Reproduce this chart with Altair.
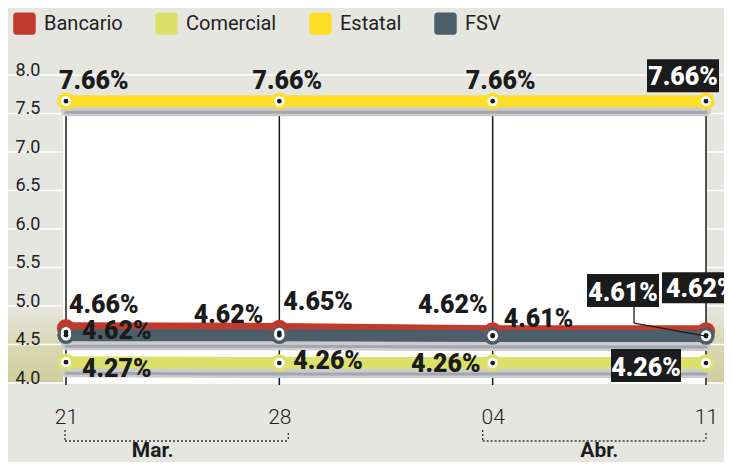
import altair as alt
import pandas as pd

# ---------------- data ----------------
DATES = ["2024-03-21", "2024-03-28", "2024-04-04", "2024-04-11"]
DAY_LABELS = ["21", "28", "04", "11"]
SERIES = ["Bancario", "Comercial", "Estatal", "FSV"]
COLORS = ["#c23a2c", "#dbe16a", "#fddf2a", "#4b5f6b"]
BANCARIO = [4.66, 4.65, 4.62, 4.62]
COMERCIAL = [4.27, 4.26, 4.26, 4.26]
ESTATAL = [7.66, 7.66, 7.66, 7.66]
FSV = [4.62, 4.62, 4.61, 4.61]
Y_TICKS = [4.0, 4.5, 5.0, 5.5, 6.0, 6.5, 7.0, 7.5, 8.0]
MONTHS = ["Mar.", "Abr."]
MONTH_START = ["2024-03-21", "2024-04-04"]
MONTH_END = ["2024-03-28", "2024-04-11"]

# ---------------- styles ----------------
BG = "#e6e6e1"
INK = "#1b1b1b"
LABEL_FONT = "Roboto"
LABEL_SIZE = 25
W, H = 640, 308
PAD = {"left": 58, "top": 67, "right": 18, "bottom": 79}

# label placement: series, point index, align, dx, dy, box (x0, x1, y0, y1) or None
LABEL_STYLE = [
    ("Estatal", 0, "left", -7, -12, None),
    ("Estatal", 1, "center", 8, -12, None),
    ("Estatal", 2, "center", 8, -12, None),
    ("Estatal", 3, "center", -23, -16, (-59, 13, -42, -9)),
    ("Bancario", 0, "left", 3, -19, None),
    ("Bancario", 1, "left", 4, -23, None),
    ("Bancario", 2, "right", -5, -22, None),
    ("Bancario", 3, "left", -40, -38, (-44, 34, -63, -32)),
    ("FSV", 0, "left", 16, 4, None),
    ("FSV", 1, "right", -16, -12, None),
    ("FSV", 2, "left", 11, -9, None),
    ("FSV", 3, "center", -83, -35, (-119, -47, -62, -29)),
    ("Comercial", 0, "left", 16, 15, None),
    ("Comercial", 1, "left", 14, 6, None),
    ("Comercial", 2, "right", -12, 9, None),
    ("Comercial", 3, "center", -60, 13, (-95, -25, -14, 19)),
]
MONTH_STYLE = [(-1, 9, -20), (-10, 0, 0)]  # bracket start offset, end offset, label dx

# ---------------- frames ----------------
dates = pd.to_datetime(DATES)
DAYS = [int((d - dates[0]).days) for d in dates]

rows = []
for name, vals in zip(SERIES, [BANCARIO, COMERCIAL, ESTATAL, FSV]):
    for i, (d, v) in enumerate(zip(DAYS, vals)):
        rows.append({"series": name, "idx": i, "day": d, "value": v,
                     "label": f"{v:.2f}%", "base": Y_TICKS[0]})
df = pd.DataFrame(rows)

m_start = [int((d - dates[0]).days) for d in pd.to_datetime(MONTH_START)]
m_end = [int((d - dates[0]).days) for d in pd.to_datetime(MONTH_END)]
months = pd.DataFrame({"name": MONTHS, "start": m_start, "end": m_end})
months["mid"] = (months["start"] + months["end"]) / 2

x_scale = alt.Scale(domain=[DAYS[0], DAYS[-1]], nice=False, zero=False)
y_scale = alt.Scale(domain=[Y_TICKS[0], Y_TICKS[-1]], nice=False, zero=False)
color_scale = alt.Scale(domain=SERIES, range=COLORS)

x_expr = " : ".join(f"datum.value == {d} ? '{lab}'" for d, lab in zip(DAYS, DAY_LABELS)) + " : ''"
X_AXIS = alt.Axis(values=DAYS, labelExpr=x_expr, title=None, domain=False, ticks=False,
                  grid=False, labelFont="Roboto", labelFontSize=21, labelFontWeight=300,
                  labelColor="#222222", labelPadding=23, labelFlush=False, zindex=1)
Y_AXIS = alt.Axis(values=Y_TICKS, format=".1f", title=None, domain=False, ticks=False,
                  grid=False, labelFont="Roboto", labelFontSize=18, labelColor="#222222",
                  labelAlign="left", labelBaseline="alphabetic", labelPadding=51, zindex=1)

ROUNDED_SQ = ("M-0.75,-1 L0.75,-1 Q1,-1 1,-0.75 L1,0.75 Q1,1 0.75,1 L-0.75,1 "
              "Q-1,1 -1,0.75 L-1,-0.75 Q-1,-1 -0.75,-1 Z")
legend = alt.Legend(
    title=None, orient="none", legendX=-53, legendY=-63, direction="horizontal",
    symbolType=ROUNDED_SQ, symbolSize=420, symbolStrokeColor="white",
    symbolStrokeWidth=2, symbolOpacity=1, labelFont="Roboto", labelFontSize=20,
    labelColor="#222222", labelOffset=8, columnPadding=29,
)


def color_enc():
    return alt.Color("series:N", scale=color_scale, legend=legend)


def X(field="day"):
    return alt.X(f"{field}:Q", scale=x_scale, axis=X_AXIS)


def Y(field="value"):
    return alt.Y(f"{field}:Q", scale=y_scale, axis=Y_AXIS)


layers = []

# gradient band 4.0 - 5.0 spanning full width
band = pd.DataFrame({"y0": [Y_TICKS[0]], "y1": [Y_TICKS[2]]})
grad = alt.LinearGradient(
    gradient="linear", x1=0, x2=0, y1=0, y2=1,
    stops=[alt.GradientStop(color=BG, offset=0),
           alt.GradientStop(color="#d9d8b4", offset=0.5),
           alt.GradientStop(color="#cfcd9c", offset=1)])
layers.append(alt.Chart(band).mark_rect(color=grad).encode(
    x=alt.value(-PAD["left"]), x2=alt.value(W + PAD["right"]),
    y=Y("y0"), y2=alt.Y2("y1")))

# full-width white gridlines
layers.append(alt.Chart(pd.DataFrame({"t": Y_TICKS})).mark_rule(
    color="white", strokeWidth=1.5).encode(
    y=Y("t"), x=alt.value(-PAD["left"]), x2=alt.value(W + PAD["right"])))

# white plot area
plot_rect = pd.DataFrame({"x0": [DAYS[0]], "x1": [DAYS[-1]],
                          "y0": [Y_TICKS[0]], "y1": [max(ESTATAL)]})
layers.append(alt.Chart(plot_rect).mark_rect(color="white", xOffset=-3).encode(
    x=X("x0"), x2=alt.X2("x1"), y=Y("y0"), y2=alt.Y2("y1")))

base = alt.Chart(df)

# legend carrier (filled squares, invisible in the plot)
layers.append(base.mark_point(shape="square", filled=True, size=0, opacity=1)
              .encode(x=X(), y=Y(), color=color_enc()))

# vertical black rules
layers.append(base.transform_filter(alt.datum.series == "Estatal").mark_rule(
    color=INK, strokeWidth=1.5, y2Offset=2).encode(x=X(), y=Y(), y2=alt.Y2("base")))

# shadows
shadow_series = ["Estatal", "FSV", "Comercial"]
layers.append(base.transform_filter(alt.FieldOneOfPredicate(field="series", oneOf=shadow_series))
              .mark_line(color="#cbcbd0", strokeWidth=10, yOffset=10, strokeCap="round")
              .encode(x=X(), y=Y(), detail="series:N"))
layers.append(base.transform_filter(alt.FieldOneOfPredicate(field="series", oneOf=shadow_series))
              .mark_line(color="#a6a6ae", strokeWidth=3, yOffset=11, strokeCap="round")
              .encode(x=X(), y=Y(), detail="series:N"))

# series lines (Bancario nudged up so it peeks out above FSV, as in the print)
widths = {"Comercial": 12, "Estatal": 12, "Bancario": 14, "FSV": 12}
nudge = {"Comercial": 0, "Estatal": 0, "Bancario": -3, "FSV": 0}
for s in ["Comercial", "Estatal", "Bancario", "FSV"]:
    layers.append(base.transform_filter(alt.datum.series == s).mark_line(
        strokeWidth=widths[s], strokeCap="round", yOffset=nudge[s])
        .encode(x=X(), y=Y(), color=color_enc()))

# point rings
layers.append(base.transform_filter(alt.datum.series == "Bancario")
              .mark_circle(size=330, opacity=1, yOffset=-4).encode(x=X(), y=Y(), color=color_enc()))
layers.append(base.transform_filter(alt.datum.series != "Bancario")
              .mark_circle(size=300, opacity=1).encode(x=X(), y=Y(), color=color_enc()))
layers.append(base.mark_circle(size=105, opacity=1, color="white").encode(x=X(), y=Y()))
layers.append(base.mark_circle(size=22, opacity=1, color=INK).encode(x=X(), y=Y()))

# leader line for the boxed FSV label
fsv_last = base.transform_filter((alt.datum.series == "FSV") & (alt.datum.idx == 3))
layers.append(fsv_last.mark_rule(color=INK, strokeWidth=1.3, xOffset=-72, x2Offset=-72,
                                 yOffset=-29, y2Offset=-13)
              .encode(x=X(), x2=alt.X2("day"), y=Y(), y2=alt.Y2("value")))
layers.append(fsv_last.mark_rule(color=INK, strokeWidth=1.3, xOffset=-72, x2Offset=0,
                                 yOffset=-13, y2Offset=0)
              .encode(x=X(), x2=alt.X2("day"), y=Y(), y2=alt.Y2("value")))

# data labels
for s, i, align, dx, dy, box in LABEL_STYLE:
    sel = base.transform_filter((alt.datum.series == s) & (alt.datum.idx == i))
    if box is not None:
        layers.append(sel.mark_rect(color=INK, xOffset=box[0], x2Offset=box[1],
                                    yOffset=box[2], y2Offset=box[3])
                      .encode(x=X(), x2=alt.X2("day"), y=Y(), y2=alt.Y2("value")))
    layers.append(sel.mark_text(
        align=align, baseline="alphabetic", dx=dx, dy=dy, font=LABEL_FONT,
        fontWeight=900, fontSize=LABEL_SIZE, color="white" if box else INK)
        .encode(x=X(), y=Y(), text="label:N"))

# month brackets
for k, (o0, o1, ldx) in enumerate(MONTH_STYLE):
    mk = alt.Chart(months.iloc[[k]])
    layers.append(mk.mark_rule(color="#333333", strokeWidth=1.3, strokeDash=[2, 2],
                               xOffset=o0, x2Offset=o1)
                  .encode(x=X("start"), x2=alt.X2("end"), y=alt.value(366)))
    layers.append(mk.mark_rule(color="#333333", strokeWidth=1.3, strokeDash=[2, 2], xOffset=o0)
                  .encode(x=X("start"), y=alt.value(355), y2=alt.value(366)))
    layers.append(mk.mark_rule(color="#333333", strokeWidth=1.3, strokeDash=[2, 2], xOffset=o1)
                  .encode(x=X("end"), y=alt.value(358), y2=alt.value(366)))
    layers.append(mk.mark_text(font="Roboto", fontWeight="bold", fontSize=21, color=INK,
                               align="center", baseline="alphabetic", dx=ldx)
                  .encode(x=X("mid"), y=alt.value(382), text="name:N"))

chart = alt.layer(*layers).properties(
    width=W, height=H, padding=PAD, autosize=alt.AutoSizeParams(type="none"),
    background=BG,
).configure_view(stroke="transparent")

chart.save("out.html", embed_options={"renderer": "svg", "actions": False})
